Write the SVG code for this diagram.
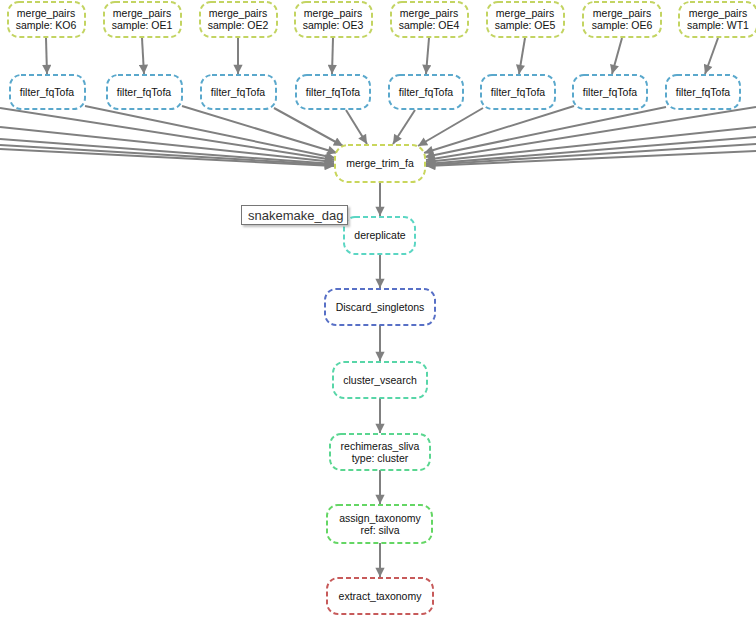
<svg xmlns="http://www.w3.org/2000/svg" width="756" height="617" viewBox="0 0 756 617">
<defs>
<marker id="ah" viewBox="0 0 10 10" refX="10" refY="5" markerWidth="5.5" markerHeight="4.6" markerUnits="strokeWidth" orient="auto">
<path d="M0,0 L10,5 L0,10 Z" fill="#808080"/>
</marker>
<filter id="sh" x="-10%" y="-20%" width="130%" height="160%">
<feDropShadow dx="2" dy="2" stdDeviation="1.2" flood-color="#000" flood-opacity="0.25"/>
</filter>
</defs>
<style>
.n{fill:#fff;stroke-width:2;stroke-dasharray:5 3;}
.t{font-family:"Liberation Sans",Arial,sans-serif;font-size:10.5px;fill:#111;text-anchor:middle;}
.e{stroke:#808080;stroke-width:2;fill:none;marker-end:url(#ah);}
.mp{stroke:#c3d462;}
.ff{stroke:#5aa8cc;}
</style>
<rect width="756" height="617" fill="#fff"/>
<g id="edges">
<line class="e" x1="46" y1="38" x2="47" y2="74"/>
<line class="e" x1="142" y1="38" x2="144" y2="74"/>
<line class="e" x1="238" y1="38" x2="238" y2="74"/>
<line class="e" x1="333" y1="38" x2="332" y2="74"/>
<line class="e" x1="429" y1="38" x2="426" y2="74"/>
<line class="e" x1="525" y1="38" x2="519" y2="74"/>
<line class="e" x1="622" y1="38" x2="612" y2="74"/>
<line class="e" x1="718" y1="38" x2="705" y2="74"/>
<line class="e" x1="85" y1="106" x2="335" y2="158"/>
<line class="e" x1="182" y1="106" x2="337" y2="153"/>
<line class="e" x1="274" y1="108" x2="343" y2="146"/>
<line class="e" x1="346" y1="110" x2="367" y2="144"/>
<line class="e" x1="415" y1="110" x2="393" y2="144"/>
<line class="e" x1="483" y1="108" x2="418" y2="146"/>
<line class="e" x1="574" y1="106" x2="424" y2="153"/>
<line class="e" x1="666" y1="107" x2="425" y2="157"/>
<line class="e" x1="0" y1="108" x2="334" y2="160"/>
<line class="e" x1="0" y1="127" x2="334" y2="162"/>
<line class="e" x1="0" y1="139" x2="334" y2="164"/>
<line class="e" x1="0" y1="145" x2="334" y2="165"/>
<line class="e" x1="0" y1="149" x2="334" y2="166"/>
<line class="e" x1="756" y1="107" x2="426" y2="160"/>
<line class="e" x1="756" y1="127" x2="426" y2="162"/>
<line class="e" x1="756" y1="137" x2="426" y2="164"/>
<line class="e" x1="756" y1="144" x2="426" y2="165"/>
<line class="e" x1="756" y1="151" x2="426" y2="166"/>
<line class="e" x1="380" y1="182" x2="380" y2="216"/>
<line class="e" x1="380" y1="254" x2="380" y2="288"/>
<line class="e" x1="380" y1="325" x2="380" y2="361"/>
<line class="e" x1="380" y1="398" x2="380" y2="433"/>
<line class="e" x1="380" y1="470" x2="380" y2="504"/>
<line class="e" x1="380" y1="543" x2="380" y2="577"/>
</g>
<g id="mp_KO6"><rect class="n mp" x="8" y="2" width="77" height="35" rx="11"/><text class="t" x="46" y="17">merge_pairs</text><text class="t" x="46" y="29">sample: KO6</text></g>
<g id="mp_OE1"><rect class="n mp" x="104" y="2" width="77" height="35" rx="11"/><text class="t" x="142" y="17">merge_pairs</text><text class="t" x="142" y="29">sample: OE1</text></g>
<g id="mp_OE2"><rect class="n mp" x="200" y="2" width="77" height="35" rx="11"/><text class="t" x="238" y="17">merge_pairs</text><text class="t" x="238" y="29">sample: OE2</text></g>
<g id="mp_OE3"><rect class="n mp" x="295" y="2" width="77" height="35" rx="11"/><text class="t" x="333" y="17">merge_pairs</text><text class="t" x="333" y="29">sample: OE3</text></g>
<g id="mp_OE4"><rect class="n mp" x="391" y="2" width="77" height="35" rx="11"/><text class="t" x="429" y="17">merge_pairs</text><text class="t" x="429" y="29">sample: OE4</text></g>
<g id="mp_OE5"><rect class="n mp" x="487" y="2" width="77" height="35" rx="11"/><text class="t" x="525" y="17">merge_pairs</text><text class="t" x="525" y="29">sample: OE5</text></g>
<g id="mp_OE6"><rect class="n mp" x="583" y="2" width="78" height="35" rx="11"/><text class="t" x="622" y="17">merge_pairs</text><text class="t" x="622" y="29">sample: OE6</text></g>
<g id="mp_WT1"><rect class="n mp" x="679" y="2" width="78" height="35" rx="11"/><text class="t" x="718" y="17">merge_pairs</text><text class="t" x="718" y="29">sample: WT1</text></g>
<g id="ff_KO6"><rect class="n ff" x="10" y="75" width="75" height="34" rx="11"/><text class="t" x="47" y="96">filter_fqTofa</text></g>
<g id="ff_OE1"><rect class="n ff" x="107" y="75" width="75" height="34" rx="11"/><text class="t" x="144" y="96">filter_fqTofa</text></g>
<g id="ff_OE2"><rect class="n ff" x="201" y="75" width="75" height="34" rx="11"/><text class="t" x="238" y="96">filter_fqTofa</text></g>
<g id="ff_OE3"><rect class="n ff" x="296" y="75" width="74" height="34" rx="11"/><text class="t" x="333" y="96">filter_fqTofa</text></g>
<g id="ff_OE4"><rect class="n ff" x="389" y="75" width="74" height="34" rx="11"/><text class="t" x="426" y="96">filter_fqTofa</text></g>
<g id="ff_OE5"><rect class="n ff" x="481" y="75" width="74" height="34" rx="11"/><text class="t" x="518" y="96">filter_fqTofa</text></g>
<g id="ff_OE6"><rect class="n ff" x="573" y="75" width="74" height="34" rx="11"/><text class="t" x="610" y="96">filter_fqTofa</text></g>
<g id="ff_WT1"><rect class="n ff" x="666" y="75" width="74" height="34" rx="11"/><text class="t" x="703" y="96">filter_fqTofa</text></g>
<g id="merge_trim_fa"><rect class="n" stroke="#c9d65c" x="335" y="145" width="90" height="37" rx="13"/><text class="t" x="380" y="167">merge_trim_fa</text></g>
<g id="dereplicate"><rect class="n" stroke="#5bd6c3" x="344" y="217" width="71" height="37" rx="11"/><text class="t" x="380" y="239">dereplicate</text></g>
<g id="Discard_singletons"><rect class="n" stroke="#5870c6" x="325" y="289" width="110" height="36" rx="11"/><text class="t" x="380" y="311">Discard_singletons</text></g>
<g id="cluster_vsearch"><rect class="n" stroke="#58d6a8" x="333" y="362" width="94" height="36" rx="11"/><text class="t" x="380" y="384">cluster_vsearch</text></g>
<g id="rechimeras_sliva"><rect class="n" stroke="#5ad690" x="330" y="434" width="100" height="36" rx="11"/><text class="t" x="380" y="450">rechimeras_sliva</text><text class="t" x="380" y="462">type: cluster</text></g>
<g id="assign_taxonomy"><rect class="n" stroke="#64d664" x="327" y="505" width="105" height="38" rx="11"/><text class="t" x="380" y="522">assign_taxonomy</text><text class="t" x="380" y="534">ref: silva</text></g>
<g id="extract_taxonomy"><rect class="n" stroke="#c75a5a" x="327" y="578" width="106" height="36" rx="11"/><text class="t" x="380" y="600">extract_taxonomy</text></g>
<g id="tooltip"><rect x="241.5" y="205.5" width="106" height="19" fill="#fff" stroke="#767676" stroke-width="1" filter="url(#sh)"/><text x="248" y="220" font-family="'Liberation Sans',Arial,sans-serif" font-size="13" fill="#333">snakemake_dag</text></g>
</svg>
